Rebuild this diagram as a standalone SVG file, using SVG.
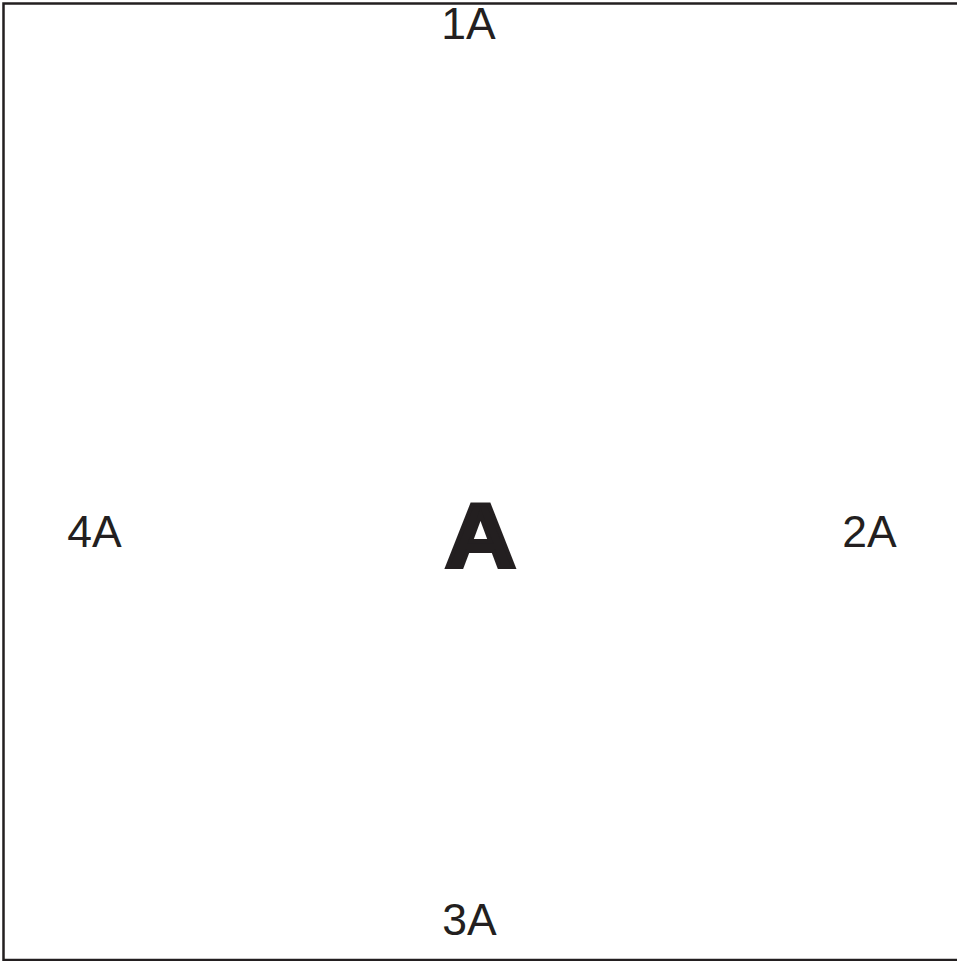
<svg xmlns="http://www.w3.org/2000/svg" width="957" height="961" viewBox="0 0 957 961">
<style>
.lbl{font-family:"Liberation Sans",Arial,sans-serif;font-size:44.5px;fill:#231f20;text-anchor:middle}
.big{font-family:"Liberation Sans",Arial,sans-serif;font-weight:bold;font-size:91px;fill:#231f20;stroke:#231f20;stroke-width:4;stroke-linejoin:miter;text-anchor:middle}
</style>
<rect x="3.5" y="3.5" width="960" height="956.5" fill="#ffffff" stroke="#231f20" stroke-width="2.5"/>
<g id="center"><text class="big" transform="translate(480.5,567) scale(1.08,1)">A</text></g>
<g id="n1"><text class="lbl" x="468.5" y="39">1A</text></g>
<g id="n2"><text class="lbl" x="869.5" y="547">2A</text></g>
<g id="n3"><text class="lbl" x="469.5" y="935">3A</text></g>
<g id="n4"><text class="lbl" x="94.5" y="547">4A</text></g>
<g id="connectors"></g>
</svg>
